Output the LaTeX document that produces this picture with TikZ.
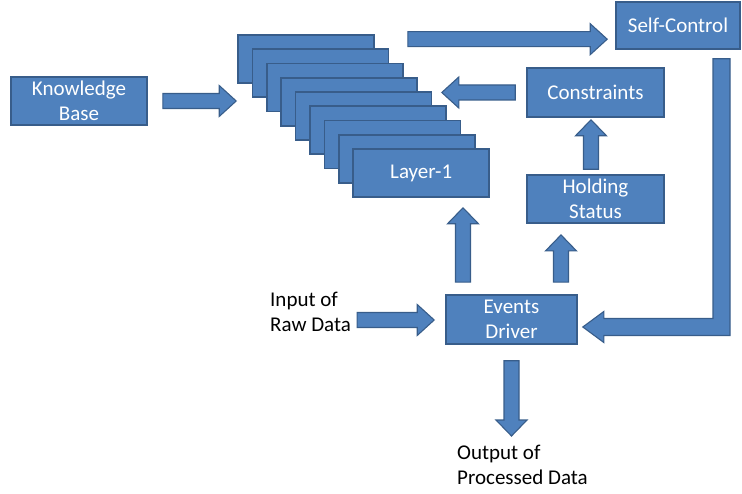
\documentclass[tikz,border=0pt]{standalone}
\usepackage{fontspec}
\setmainfont{Carlito}
\usetikzlibrary{positioning, calc}
\definecolor{boxfill}{HTML}{4F81BD}
\definecolor{boxline}{HTML}{385D8A}
\tikzset{
  blk/.style={
    draw=boxline,
    fill=boxfill,
    line width=1.6pt,
    text=white,
    align=center,
    font=\fontsize{21}{25}\selectfont,
    minimum width=136pt,
    minimum height=48pt,
    inner sep=0pt,
  },
  note/.style={align=left, font=\fontsize{21}{25}\selectfont, inner sep=0pt, anchor=west},
  barrow/.style={draw=boxline, fill=boxfill, line width=1.1pt, line join=miter},
  % block arrow, left/right: keeps the y of its start
  harrow/.style={to path={
    let \p1=(\tikztostart), \p2=(\tikztotarget), \n1={(\x2-\x1)/abs(\x2-\x1)} in
    (\x1,\y1+7.5) -- ({\x2-(\n1)*17},\y1+7.5) -- ({\x2-(\n1)*17},\y1+15.5) -- (\x2,\y1)
    -- ({\x2-(\n1)*17},\y1-15.5) -- ({\x2-(\n1)*17},\y1-7.5) -- (\x1,\y1-7.5) -- cycle}},
  % block arrow, up/down: keeps the x of its start
  varrow/.style={to path={
    let \p1=(\tikztostart), \p2=(\tikztotarget), \n1={(\y2-\y1)/abs(\y2-\y1)} in
    (\x1+7.5,\y1) -- (\x1+7.5,{\y2-(\n1)*16}) -- (\x1+15.5,{\y2-(\n1)*16}) -- (\x1,\y2)
    -- (\x1-15.5,{\y2-(\n1)*16}) -- (\x1-7.5,{\y2-(\n1)*16}) -- (\x1-7.5,\y1) -- cycle}},
  % bent block arrow: down, then left
  elbow/.style={to path={
    let \p1=(\tikztostart), \p2=(\tikztotarget) in
    (\x1-8.5,\y1) -- (\x1-8.5,\y2+8.5) -- (\x2+21,\y2+8.5) -- (\x2+21,\y2+15.5) -- (\x2,\y2)
    -- (\x2+21,\y2-15.5) -- (\x2+21,\y2-8.5) -- (\x1+8.5,\y2-8.5) -- (\x1+8.5,\y1) -- cycle}},
}

\begin{document}
\begin{tikzpicture}[x=1pt, y=-1pt]
\useasboundingbox (0,0) rectangle (742,494);

% Boxes
\node[blk] (kb) at (79,101) {Knowledge\\Base};

% Stack of layers, back to front
\foreach \n [count=\k from 0] in {9,...,2}
  \node[blk] (lay\n) at ({306+14.4*\k},{59+14.25*\k}) {};
\node[blk] (lay1) at ($(lay2)+(14.4,14.25)$) {Layer-1};

\node[blk, minimum width=124pt, minimum height=47pt] (sc) at (678,25.5) {Self-Control};
\node[blk, minimum width=137pt, minimum height=49pt] (con) at (595.5,92.5) {Constraints};
\node[blk, minimum width=137pt, below=56.5pt of con] (hs) {Holding\\Status};
\node[blk, minimum width=131pt, minimum height=49pt] (ev) at (511.5,319.5) {Events\\Driver};

% Plain texts
\node[note] (rawin) at (270,312) {Input of\\Raw Data};
\node[note] (procout) at (457,465) {Output of\\Processed Data};

% --- Block arrows ------------------------------------------------------
\draw[barrow, harrow] ([xshift=15pt]kb.east) to ([xshift=-1pt]lay9.west);
\draw[barrow, harrow] ([xshift=33pt, yshift=-5pt]lay9.north east) to ([xshift=-8pt]sc.west);
\draw[barrow, harrow] ([xshift=-11pt]con.west) to ([xshift=9.4pt]lay5.east);
\draw[barrow, varrow] ([xshift=-4.5pt, yshift=5pt]hs.north) to ([yshift=-2pt]con.south);
\draw[barrow, varrow] ([xshift=-48.5pt, yshift=12pt]ev.north) to ([yshift=-10pt]lay1.south);
\draw[barrow, varrow] ([xshift=49.5pt, yshift=12pt]ev.north) to ([yshift=-11pt]hs.south);
\draw[barrow, harrow] ([xshift=6pt, yshift=-8pt]rawin.east) to ([xshift=-11pt]ev.west);
\draw[barrow, varrow] ([yshift=-16pt]ev.south) to ([yshift=9pt]procout.north);
\draw[barrow, elbow] ([xshift=43.5pt, yshift=-9pt]sc.south) to ([xshift=5pt, yshift=-7.5pt]ev.east);

\end{tikzpicture}
\end{document}
